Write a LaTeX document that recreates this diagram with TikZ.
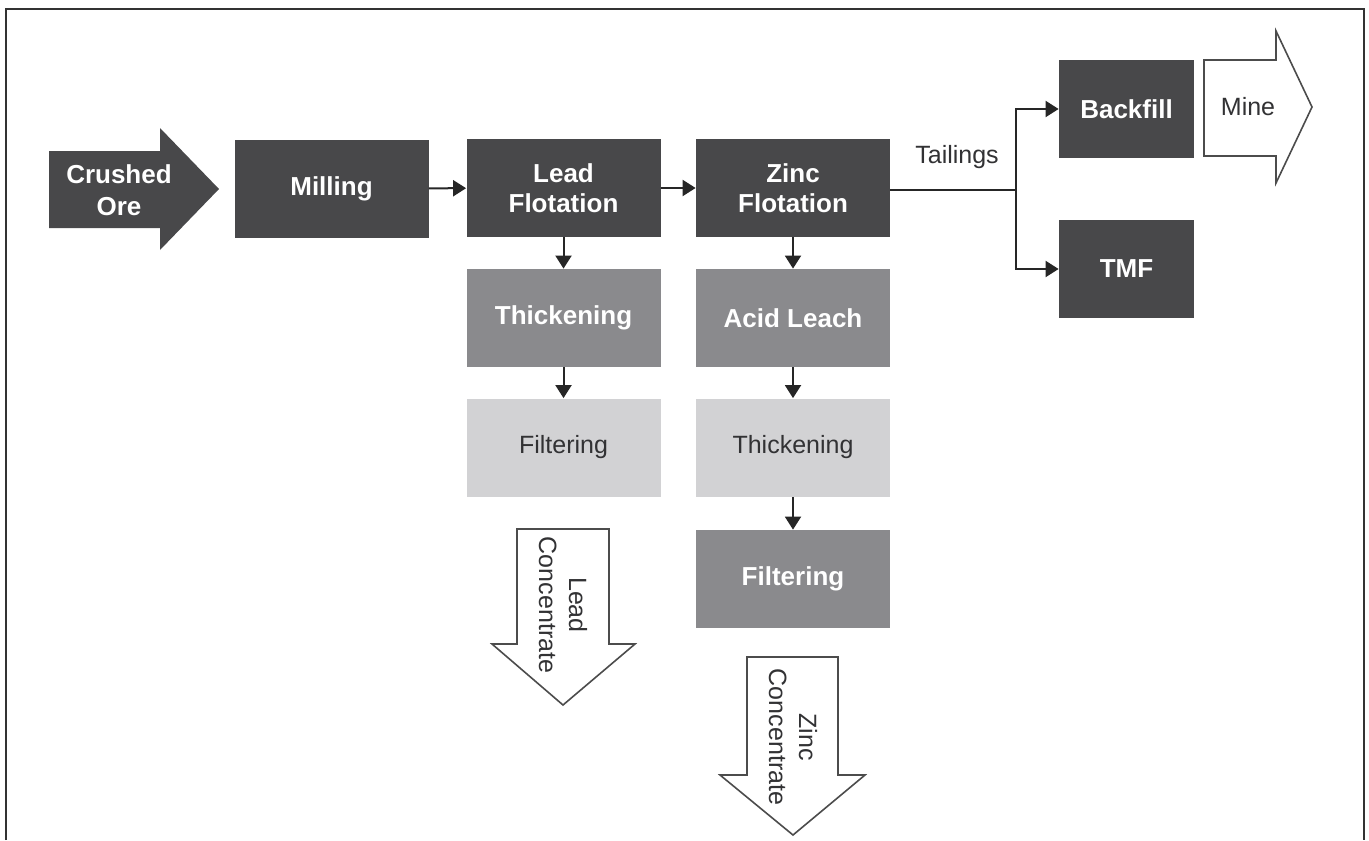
\documentclass[tikz,border=0pt]{standalone}
\usepackage{fontspec}
\setmainfont{Liberation Sans}
\usetikzlibrary{arrows.meta, positioning}
\definecolor{darkstage}{RGB}{72,72,74}
\definecolor{midstage}{RGB}{138,138,141}
\definecolor{lightstage}{RGB}{210,210,212}
\definecolor{inktext}{RGB}{50,50,52}

\begin{document}
\begin{tikzpicture}[x=0.5pt, y=-0.5pt,
    stage/.style={rectangle, minimum width=97pt, minimum height=49pt, inner sep=0pt, align=center, text=white, font=\fontsize{13}{15}\selectfont\bfseries},
    darkbox/.style={stage, fill=darkstage},
    midbox/.style={stage, fill=midstage},
    lightbox/.style={stage, fill=lightstage, text=inktext, font=\fontsize{12.5}{15}\selectfont},
    flow/.style={-{Triangle[length=6.5pt, width=8pt]}, line width=1pt, black!85},
    outarrow/.style={draw=black!70, line width=0.8pt, fill=white},
    plain/.style={font=\fontsize{12.5}{15}\selectfont, text=inktext, align=center}]
    \useasboundingbox (0,0) rectangle (1369,840);
    \draw[line width=1.2pt, black!80] (6,840) -- (6,9) -- (1364,9) -- (1364,840);

    % feed arrow
    \fill[darkstage] (49,151) -- (160,151) -- (160,128) -- (219,189) -- (160,250) -- (160,228) -- (49,228) -- cycle;
    \node[font=\fontsize{13}{16}\selectfont\bfseries, text=white, align=center] (ore) at (119,190) {Crushed\\Ore};

    % main line
    \node[darkbox] (milling) at (331.5,188.5) {Milling};
    \node[darkbox] (leadflot) at (563.5,188) {Lead\\Flotation};
    \node[darkbox] (zincflot) at (793,188) {Zinc\\Flotation};

    % lead circuit
    \node[midbox] (leadthick) at (563.5,318) {Thickening};
    \node[lightbox] (leadfilt) at (563.5,447.5) {Filtering};

    % zinc circuit
    \node[midbox] (acidleach) at (793,318) {Acid Leach};
    \node[lightbox] (zincthick) at (793,447.5) {Thickening};
    \node[midbox] (zincfilt) at (793,579) {Filtering};

    % tailings
    \node[darkbox, minimum width=67.5pt] (backfill) at (1126.5,109) {Backfill};
    \node[darkbox, minimum width=67.5pt] (tmf) at (1126.5,269) {TMF};
    \coordinate (split) at (1016,190);
    \node[plain] (tailings) at (957,157) {Tailings};

    \draw[flow] (milling) -- (leadflot);
    \draw[flow] (leadflot) -- (zincflot);
    \draw[flow] (leadflot) -- (leadthick);
    \draw[flow] (leadthick) -- (leadfilt);
    \draw[flow] (zincflot) -- (acidleach);
    \draw[flow] (acidleach) -- (zincthick);
    \draw[flow] (zincthick) -- (zincfilt);
    \draw[line width=1pt, black!85] (zincflot.east |- split) -- (split);
    \draw[flow] (split) |- (backfill.west);
    \draw[flow] (split) |- (tmf.west);

    % product arrows
    \draw[outarrow] (1204,60) -- (1276,60) -- (1276,31) -- (1312,107) -- (1276,183) -- (1276,156) -- (1204,156) -- cycle;
    \node[plain] (mine) at (1248,107) {Mine};
    \draw[outarrow] (517,529) -- (609,529) -- (609,644) -- (635,644) -- (563,705) -- (492,644) -- (517,644) -- cycle;
    \node[plain, rotate=-90] (leadconc) at (563,605) {Lead\\Concentrate};
    \draw[outarrow] (747,657) -- (838,657) -- (838,775) -- (865,775) -- (793,835) -- (720,775) -- (747,775) -- cycle;
    \node[plain, rotate=-90] (zincconc) at (793,737) {Zinc\\Concentrate};
\end{tikzpicture}
\end{document}
